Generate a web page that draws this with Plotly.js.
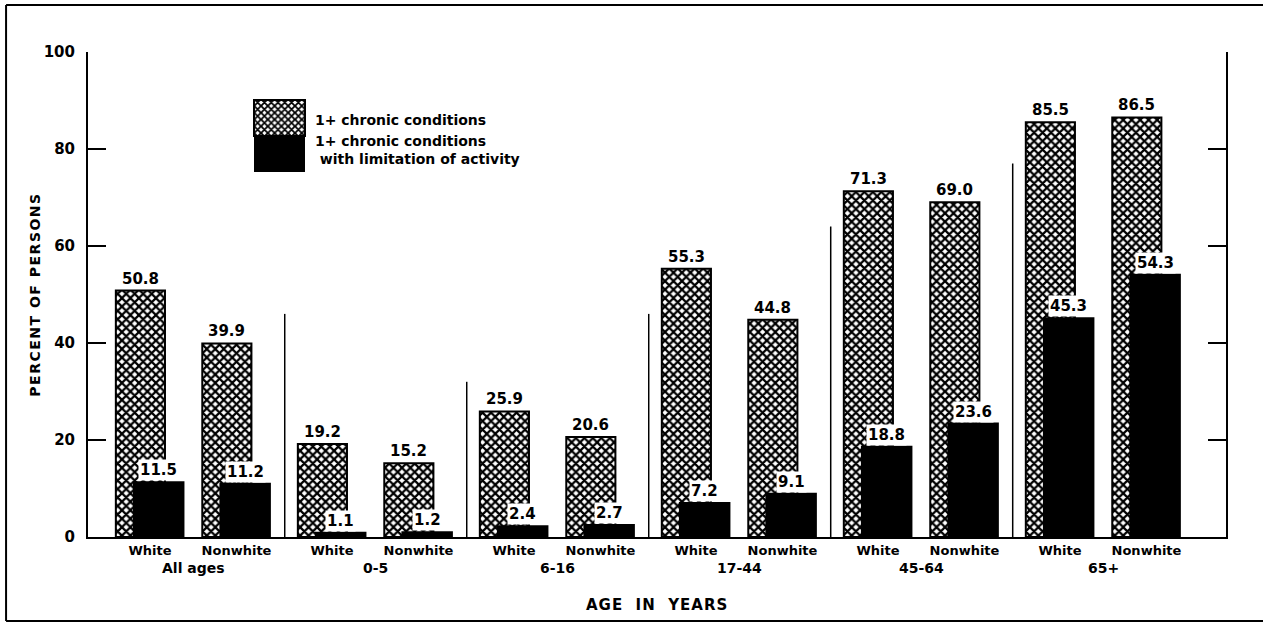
<!DOCTYPE html>
<html>
<head>
<meta charset="utf-8">
<script src="https://cdn.plot.ly/plotly-3.0.1.min.js"></script>
<style>
  html, body { margin: 0; padding: 0; background: #fff; }
  #chart { width: 1263px; height: 624px; }
</style>
</head>
<body>
<div id="chart"></div>
<script>
// ---- data ----
const groups = ['All ages', '0-5', '6-16', '17-44', '45-64', '65+'];
const subgroups = ['White', 'Nonwhite'];
const anyChronic = [50.8, 39.9, 19.2, 15.2, 25.9, 20.6, 55.3, 44.8, 71.3, 69.0, 85.5, 86.5];
const withLimitation = [11.5, 11.2, 1.1, 1.2, 2.4, 2.7, 7.2, 9.1, 18.8, 23.6, 45.3, 54.3];
const dividerTops = [46, 32, 46, 64, 77];
const seriesNames = ['1+ chronic conditions', '1+ chronic conditions<br> with limitation of activity'];
const yTicks = [0, 20, 40, 60, 80, 100];

// ---- layout helpers ----
const SUB = 0.475;                  // spacing White -> Nonwhite inside a group
const H_OFF = -0.188, H_W = 0.270;  // hatched bar
const B_OFF = -0.094, B_W = 0.283;  // black bar
const FONT = 'DejaVu Sans';

const pos = [], tickText = [];
groups.forEach((g, i) => subgroups.forEach((s, j) => { pos.push(i + j * SUB); tickText.push(s); }));

const hatch = {
  type: 'bar', name: seriesNames[0], x: pos, y: anyChronic,
  offset: H_OFF, width: H_W,
  marker: { color: '#fff', line: { color: '#000', width: 2 },
            pattern: { shape: 'x', fgcolor: '#000', bgcolor: '#fff', size: 6, solidity: 0.6, fillmode: 'replace' } },
  hoverinfo: 'skip'
};
const black = {
  type: 'bar', name: seriesNames[1], x: pos, y: withLimitation,
  offset: B_OFF, width: B_W,
  marker: { color: '#000', line: { color: '#000', width: 0 } },
  hoverinfo: 'skip'
};

const annotations = [];
anyChronic.forEach((v, k) => annotations.push({
  x: pos[k] + H_OFF + H_W / 2, y: v, xref: 'x', yref: 'y', text: v.toFixed(1),
  showarrow: false, yanchor: 'bottom', yshift: 2, bgcolor: '#fff', borderpad: 0,
  font: { family: FONT, size: 15, color: '#000', weight: 'bold' }
}));
withLimitation.forEach((v, k) => annotations.push({
  x: pos[k] + B_OFF + B_W / 2, y: v, xref: 'x', yref: 'y', text: v.toFixed(1),
  showarrow: false, yanchor: 'bottom', yshift: 0, bgcolor: '#fff', borderpad: 1,
  font: { family: FONT, size: 15, color: '#000', weight: 'bold' }
}));
groups.forEach((g, i) => annotations.push({
  x: i + SUB / 2, y: -0.064, xref: 'x', yref: 'paper', text: g, showarrow: false,
  yanchor: 'middle', font: { family: FONT, size: 14, color: '#000', weight: 'bold' }
}));
annotations.push({
  x: 0.5, y: -0.14, xref: 'paper', yref: 'paper', text: 'AGE  IN  YEARS', showarrow: false,
  yanchor: 'middle', font: { family: FONT, size: 15, color: '#000', weight: 'bold' }
});

const shapes = dividerTops.map((t, i) => ({
  type: 'line', xref: 'x', yref: 'y', x0: i + 0.74, x1: i + 0.74, y0: 0, y1: t,
  line: { color: '#000', width: 1.5 }
}));
// outer frame (top, left, bottom)
shapes.push({ type: 'line', xref: 'paper', yref: 'paper', x0: -0.072, x1: 1.04, y0: 1.097, y1: 1.097, line: { color: '#000', width: 2 } });
shapes.push({ type: 'line', xref: 'paper', yref: 'paper', x0: -0.072, x1: -0.072, y0: 1.097, y1: -0.173, line: { color: '#000', width: 2 } });
shapes.push({ type: 'line', xref: 'paper', yref: 'paper', x0: -0.072, x1: 1.04, y0: -0.173, y1: -0.173, line: { color: '#000', width: 2 } });

const layout = {
  width: 1263, height: 624,
  margin: { l: 88, r: 37, t: 52, b: 87 },
  paper_bgcolor: '#fff', plot_bgcolor: '#fff',
  barmode: 'overlay',
  showlegend: true,
  legend: { x: 0.1643, y: 0.893, xanchor: 'left', yanchor: 'top', bgcolor: 'rgba(0,0,0,0)',
            font: { family: FONT, size: 14, color: '#000', weight: 'bold' } },
  xaxis: {
    range: [-0.341, 5.912], tickvals: pos, ticktext: tickText,
    showgrid: false, zeroline: false, showline: true, linecolor: '#000', linewidth: 2,
    ticks: '', tickfont: { family: FONT, size: 13, color: '#000', weight: 'bold' }, fixedrange: true
  },
  yaxis: {
    range: [0, 100], tickvals: yTicks, ticktext: yTicks.map(String),
    showgrid: false, zeroline: false, showline: true, mirror: 'ticks', linecolor: '#000', linewidth: 2,
    ticks: 'inside', ticklen: 18, tickwidth: 2, tickcolor: '#000', ticklabelstandoff: 8,
    tickfont: { family: FONT, size: 15, color: '#000', weight: 'bold' },
    title: { text: 'PERCENT OF PERSONS', standoff: 0, font: { family: FONT, size: 14, color: '#000', weight: 'bold' } },
    fixedrange: true
  },
  annotations: annotations,
  shapes: shapes
};

Plotly.newPlot('chart', [hatch, black], layout, { displayModeBar: false, staticPlot: true }).then(gd => {
  // let the key swatches extend outside the legend clip box
  gd.querySelectorAll('.legend [clip-path]').forEach(el => el.removeAttribute('clip-path'));
  gd.querySelectorAll('.legend').forEach(el => el.removeAttribute('clip-path'));
  // enlarge legend swatches into one tall split box like the original key
  const base = gd.getBoundingClientRect();
  const targets = [[254, 100, 305, 136], [254, 136, 305, 172]];
  gd.querySelectorAll('.legend .traces').forEach((tr, k) => {
    const p = tr.querySelector('.legendpoints path');
    if (!p || !targets[k]) return;
    const b = p.getBoundingClientRect();
    const cx = b.left + b.width / 2 - base.left, cy = b.top + b.height / 2 - base.top;
    const t = targets[k];
    p.setAttribute('d', `M${t[0] - cx},${t[1] - cy}H${t[2] - cx}V${t[3] - cy}H${t[0] - cx}Z`);
  });
  const yt = gd.querySelector('.ytitle');
  if (yt) yt.style.letterSpacing = '1.5px';
  gd.querySelectorAll('.annotation-text').forEach(el => {
    if (el.textContent.indexOf('AGE') === 0) el.style.letterSpacing = '1px';
  });
});
</script>
</body>
</html>
